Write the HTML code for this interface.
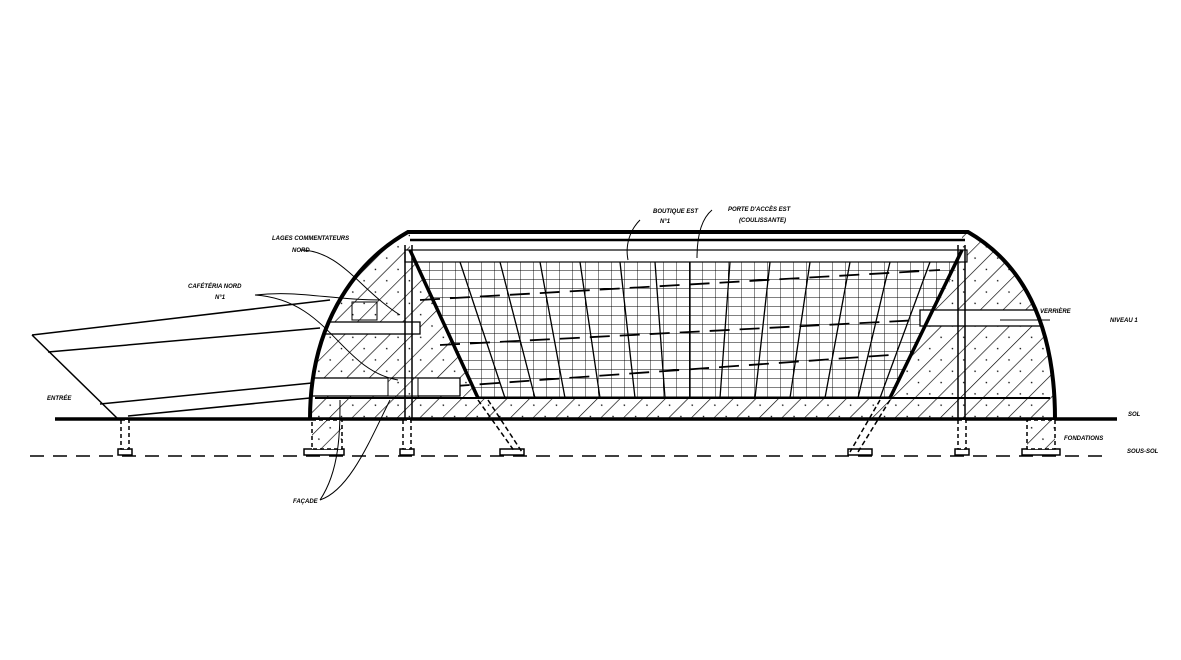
<!DOCTYPE html>
<html><head><meta charset="utf-8"><style>
html,body{margin:0;padding:0;background:#fff;}
svg{display:block}
text{font-family:"Liberation Sans",sans-serif;font-size:6px;font-weight:bold;font-style:italic;fill:#000}
</style></head><body>
<svg width="1181" height="660" viewBox="0 0 1181 660" xmlns="http://www.w3.org/2000/svg">
<defs>
<pattern id="h" width="16" height="16" patternUnits="userSpaceOnUse" patternTransform="rotate(45)">
<rect width="16" height="16" fill="#fff"/>
<line x1="0" y1="0" x2="0" y2="16" stroke="#000" stroke-width="1.3"/>
<circle cx="8" cy="5" r="0.8" fill="#000"/>
</pattern>
<pattern id="g" width="13" height="9" patternUnits="userSpaceOnUse">
<rect width="13" height="9" fill="#fff"/>
<path d="M0 0H13M0 0V9" stroke="#000" stroke-width="0.9"/>
</pattern>
<clipPath id="c"><path d="M310 419 C310 330 350 265 408 232 L968 232 C1020 262 1055 320 1055 419 Z"/></clipPath>
</defs>
<rect width="1181" height="660" fill="#fff"/>
<g stroke="#000" stroke-width="1.5" fill="none">
<path d="M32 335 L118 419"/>
<path d="M32 335 L330 300"/>
<path d="M48 352 L320 328"/>
<path d="M100 404 L312 383"/>
<path d="M128 416 L310 398"/>
</g>
<g clip-path="url(#c)">
<path d="M300 232 L410 232 L410 250 L478 398 L890 398 L962 250 L962 232 L1070 232 L1070 419 L300 419 Z" fill="url(#h)"/>
<polygon points="415,262 960,262 888,398 480,398" fill="url(#g)"/>
<g stroke="#000" stroke-width="1.3">
<line x1="460" y1="262" x2="505" y2="398"/><line x1="500" y1="262" x2="535" y2="398"/>
<line x1="540" y1="262" x2="565" y2="398"/><line x1="580" y1="262" x2="600" y2="398"/>
<line x1="620" y1="262" x2="635" y2="398"/><line x1="655" y1="262" x2="665" y2="398"/>
<line x1="690" y1="262" x2="690" y2="398"/><line x1="730" y1="262" x2="720" y2="398"/>
<line x1="770" y1="262" x2="755" y2="398"/><line x1="810" y1="262" x2="790" y2="398"/>
<line x1="850" y1="262" x2="825" y2="398"/><line x1="890" y1="262" x2="858" y2="398"/>
<line x1="930" y1="262" x2="880" y2="398"/>
</g>
<g stroke="#000" stroke-width="1.8" stroke-dasharray="20 10" fill="none">
<path d="M420 300 L940 270"/><path d="M440 345 L920 320"/><path d="M330 395 L890 355"/>
</g>
<rect x="405" y="250" width="562" height="12" fill="#fff" stroke="#000" stroke-width="1.2"/>
<g fill="#fff" stroke="#000" stroke-width="1.3">
<rect x="300" y="378" width="160" height="18"/>
<rect x="300" y="322" width="120" height="12"/>
<rect x="920" y="310" width="150" height="16"/>
</g>
<rect x="388" y="378" width="30" height="18" fill="url(#h)" stroke="#000"/>
<rect x="352" y="302" width="25" height="18" fill="url(#h)" stroke="#000"/>
</g>
<g stroke="#000" fill="none">
<path d="M310 419 C310 330 350 265 408 232 L968 232 C1020 262 1055 320 1055 419" stroke-width="4"/>
<line x1="410" y1="240" x2="965" y2="240" stroke-width="2.5"/>
<line x1="410" y1="250" x2="478" y2="398" stroke-width="3.5"/>
<line x1="962" y1="250" x2="890" y2="398" stroke-width="3.5"/>
<line x1="315" y1="398" x2="1050" y2="398" stroke-width="2"/>
<line x1="405" y1="245" x2="405" y2="419" stroke-width="1.5"/>
<line x1="412" y1="245" x2="412" y2="419" stroke-width="1.5"/>
<line x1="958" y1="245" x2="958" y2="419" stroke-width="1.5"/>
<line x1="965" y1="245" x2="965" y2="419" stroke-width="1.5"/>
<line x1="55" y1="419" x2="1117" y2="419" stroke-width="3.5"/>
<line x1="30" y1="456" x2="1110" y2="456" stroke-width="1.5" stroke-dasharray="14 9"/>
</g>
<g stroke="#000" stroke-width="1.5" fill="#fff">
<rect x="118" y="449" width="14" height="6"/><rect x="304" y="449" width="40" height="6"/>
<rect x="400" y="449" width="14" height="6"/><rect x="500" y="449" width="24" height="6"/>
<rect x="848" y="449" width="24" height="6"/><rect x="955" y="449" width="14" height="6"/>
<rect x="1022" y="449" width="38" height="6"/>
<rect x="312" y="420" width="30" height="29" fill="url(#h)" stroke-dasharray="4 3"/>
<rect x="1027" y="420" width="28" height="29" fill="url(#h)" stroke-dasharray="4 3"/>
<rect x="121" y="420" width="8" height="29" stroke-dasharray="4 3"/>
<rect x="403" y="420" width="8" height="29" stroke-dasharray="4 3"/>
<rect x="958" y="420" width="8" height="29" stroke-dasharray="4 3"/>
<path d="M478 400 L515 452 M488 400 L522 452 M890 400 L858 452 M880 400 L850 452" fill="none" stroke-dasharray="5 3"/>
</g>
<g stroke="#000" stroke-width="1" fill="none">
<path d="M300 250 C340 250 360 290 400 315"/>
<path d="M255 295 C300 290 330 300 380 300"/>
<path d="M255 295 C330 300 340 370 398 380"/>
<path d="M320 500 C350 490 370 440 390 400"/>
<path d="M320 500 C340 470 340 430 340 400"/>
<path d="M640 220 C630 230 625 245 628 260"/>
<path d="M712 210 C700 220 697 240 697 258"/>
<path d="M1050 320 L1000 320"/>
</g>
<text x="272" y="240">LAGES COMMENTATEURS</text><text x="292" y="252">NORD</text>
<text x="188" y="288">CAFÉTÉRIA NORD</text><text x="215" y="299">N°1</text>
<text x="653" y="213">BOUTIQUE EST</text><text x="660" y="223">N°1</text>
<text x="728" y="211">PORTE D'ACCÈS EST</text><text x="739" y="222">(COULISSANTE)</text>
<text x="1040" y="313">VERRIÈRE</text><text x="1110" y="322">NIVEAU 1</text>
<text x="47" y="400">ENTRÉE</text>
<text x="1128" y="416">SOL</text><text x="1064" y="440">FONDATIONS</text><text x="1127" y="453">SOUS-SOL</text>
<text x="293" y="503">FAÇADE</text>
</svg>
</body></html>
